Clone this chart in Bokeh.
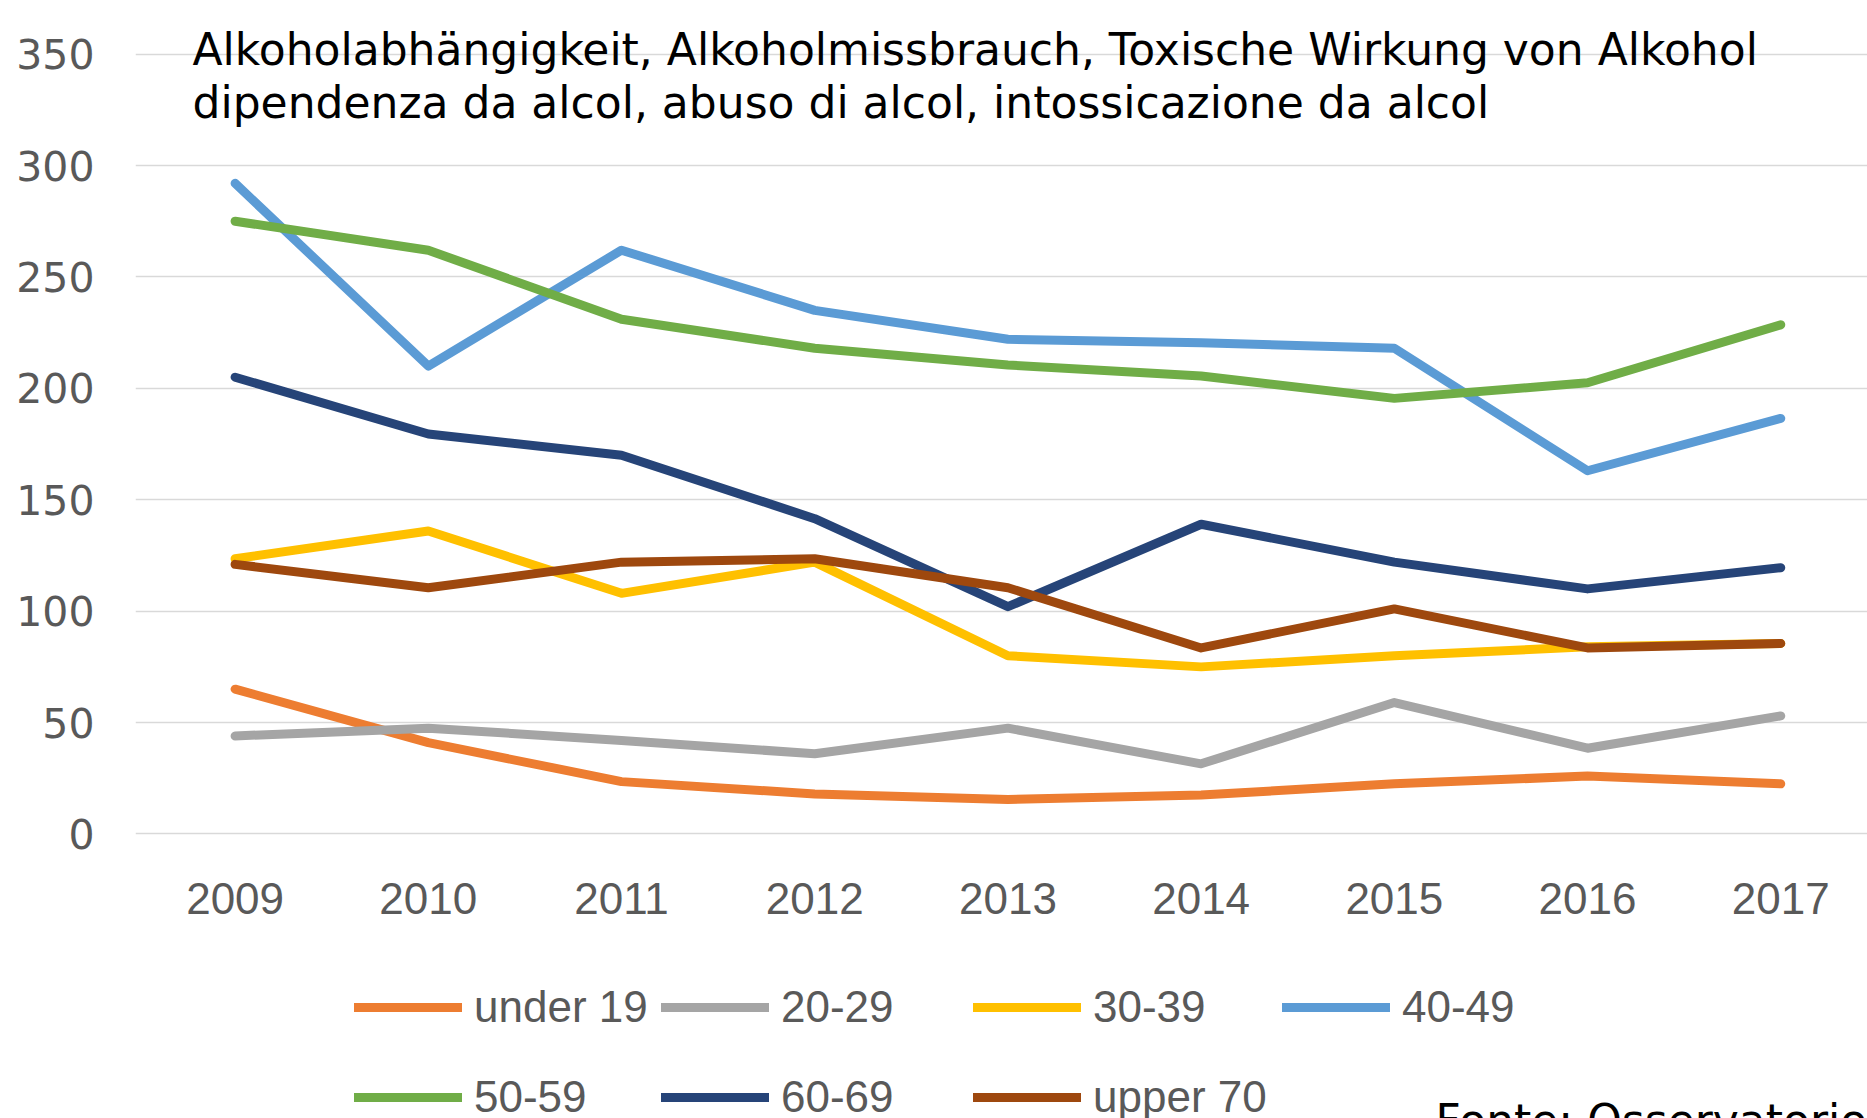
from bokeh.plotting import figure
from bokeh.layouts import column
from bokeh.models import Range1d, FixedTicker, Legend, LegendItem, Label
from bokeh.embed import file_html
from bokeh.resources import INLINE

years = [2009, 2010, 2011, 2012, 2013, 2014, 2015, 2016, 2017]
year_labels = ["2009", "2010", "2011", "2012", "2013", "2014", "2015", "2016", "2017"]
y_ticks = [0, 50, 100, 150, 200, 250, 300, 350]

under_19 = [65, 41, 23.5, 18, 15.5, 17.5, 22.5, 26, 22.5]
age_20_29 = [44, 47.5, 42, 36, 47.5, 31.5, 59, 38.5, 53]
age_30_39 = [123.5, 136, 108, 122, 80, 75, 80, 84, 85.5]
age_40_49 = [292, 210, 262, 235, 222, 220.5, 218, 163, 186.5]
age_50_59 = [275, 262, 231, 218, 210.5, 205.5, 195.5, 202.5, 228.5]
age_60_69 = [205, 179.5, 170, 141.5, 102, 139, 122, 110, 119.5]
upper_70 = [121, 110.5, 122, 123.5, 110.5, 83.5, 101, 83.5, 85.5]

series_names = ["under 19", "20-29", "30-39", "40-49", "50-59", "60-69", "upper 70"]
series_values = [under_19, age_20_29, age_30_39, age_40_49, age_50_59, age_60_69, upper_70]
colors = ["#ED7D31", "#A5A5A5", "#FFC000", "#5B9BD5", "#70AD47", "#264478", "#9E480E"]

title_1 = "Alkoholabhängigkeit, Alkoholmissbrauch, Toxische Wirkung von Alkohol"
title_2 = "dipendenza da alcol, abuso di alcol, intossicazione da alcol"
source_text = "Fonte: Osservatorio"

W = 1867
H1 = 950
H2 = 168
FL = 135
FRAME_BOTTOM = 840
LINE_W = 9
TITLE_FONT = "DejaVu Sans"
TITLE_SIZE = "44px"

p = figure(width=W, height=H1, output_backend="svg", toolbar_location=None,
           x_range=Range1d(2008.4845, 2017.449), y_range=Range1d(-2.92, 374.05),
           min_border_left=FL, min_border_right=0, min_border_top=0,
           min_border_bottom=H1 - FRAME_BOTTOM)
p.outline_line_color = None
p.background_fill_color = "white"
p.border_fill_color = "white"

p.xgrid.grid_line_color = None
p.ygrid.grid_line_color = "#D9D9D9"
p.ygrid.grid_line_width = 1.5
p.yaxis.ticker = FixedTicker(ticks=y_ticks)
p.xaxis.ticker = FixedTicker(ticks=years)
p.xaxis.major_label_overrides = {y: l for y, l in zip(years, year_labels)}

for ax in (p.xaxis[0], p.yaxis[0]):
    ax.axis_line_color = None
    ax.major_tick_line_color = None
    ax.minor_tick_line_color = None
    ax.major_label_text_color = "#595959"

p.yaxis.major_label_text_font = "DejaVu Sans"
p.yaxis.major_label_text_font_size = "41px"
p.yaxis.major_label_standoff = 35
p.xaxis.major_label_text_font = "Liberation Sans"
p.xaxis.major_label_text_font_size = "44px"
p.xaxis.major_label_standoff = 36

for name, vals, c in zip(series_names, series_values, colors):
    p.line(years, vals, line_width=LINE_W, line_color=c, line_cap="round", line_join="round")

for txt, base in ((title_1, 49), (title_2, 102)):
    p.add_layout(Label(x=192 - FL, y=FRAME_BOTTOM - base, x_units="screen", y_units="screen",
                       text=txt, text_font=TITLE_FONT, text_font_size=TITLE_SIZE,
                       text_color="black", text_baseline="alphabetic", text_align="left"))

# legend strip below the chart (its frame is aligned with the chart frame)
q = figure(width=W, height=H2, output_backend="svg", toolbar_location=None,
           x_range=Range1d(0, 1), y_range=Range1d(0, 1),
           x_axis_location=None, y_axis_location=None,
           min_border=0, min_border_left=0, min_border_right=0,
           min_border_top=0, min_border_bottom=0)
q.outline_line_color = None
q.grid.visible = False
q.background_fill_color = "white"
q.border_fill_color = "white"

col_x = [354, 661, 973, 1282]
row_center = [60, 150]
for i, (name, c) in enumerate(zip(series_names, colors)):
    row, col = (0, i) if i < 4 else (1, i - 4)
    r = q.line(x=[-10, -9], y=[-10, -10], line_width=LINE_W, line_color=c, line_cap="round")
    lg = Legend(items=[LegendItem(label=name, renderers=[r])],
                location=(col_x[col] - FL, H2 - row_center[row] - 22),
                glyph_width=108, glyph_height=44, label_height=44,
                label_standoff=12, padding=0, spacing=0, margin=0,
                border_line_color=None, background_fill_alpha=0,
                label_text_font="Liberation Sans", label_text_font_size="44px",
                label_text_color="#595959")
    q.add_layout(lg, "center")

q.add_layout(Label(x=1435 - FL, y=H2 - (1094 - H1), x_units="screen", y_units="screen",
                   text=source_text, text_font=TITLE_FONT, text_font_size=TITLE_SIZE,
                   text_color="black", text_baseline="top", text_align="left"))

layout = column(p, q, spacing=0)
open("out.html", "w").write(file_html(layout, INLINE))
